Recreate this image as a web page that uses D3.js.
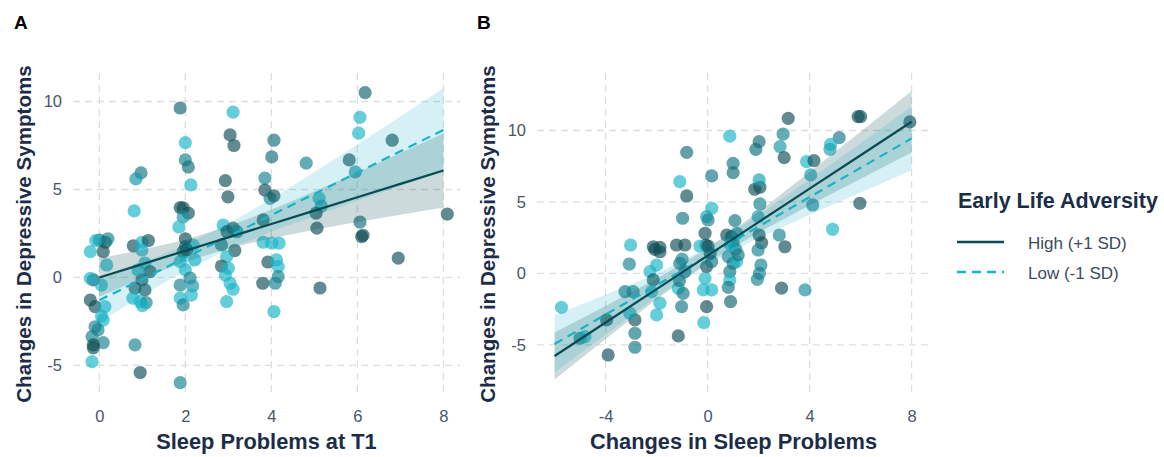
<!DOCTYPE html>
<html><head><meta charset="utf-8">
<script src="https://cdn.jsdelivr.net/npm/d3@7"></script>
<style>
body{margin:0;background:#fff;}
text{font-family:"Liberation Sans",Arial,sans-serif;}
</style></head>
<body><svg id="c" width="1164" height="457"></svg>
<script>
// ---------- DATA ----------
// Panel A: Sleep Problems at T1 vs Changes in Depressive Symptoms
const aX = [1.88,3.11,6.18,6.06,6.03,6.81,3.04,3.13,4.06,4.01,4.81,2.0,2.0,2.07,2.13,0.97,0.85,0.81,2.93,2.99,3.85,3.85,3.97,4.06,5.81,5.95,1.88,1.95,2.07,1.95,1.85,5.11,5.16,5.04,5.06,6.06,6.13,8.09,3.81,2.88,2.97,3.11,3.2,3.81,4.01,4.18,0.0,0.14,-0.08,0.79,0.99,1.14,2.0,2.18,-0.21,0.09,0.99,1.95,2.03,1.88,2.22,2.0,2.11,1.88,2.17,1.88,2.14,1.95,1.88,2.84,3.15,2.96,2.84,3.0,2.93,3.04,3.11,2.96,3.92,4.12,4.16,4.16,4.09,3.8,4.06,5.13,6.1,6.95,-0.14,-0.21,0.05,0.17,-0.21,-0.1,0.13,0.05,0.09,-0.1,-0.03,-0.17,0.09,-0.14,-0.14,-0.17,0.83,0.95,0.83,0.99,1.06,0.78,0.95,1.09,1.06,1.18,0.9,0.2,1.0,2.0];
const aY = [9.63,9.4,10.5,9.1,8.2,7.8,8.1,7.5,7.8,6.85,6.5,7.66,6.68,6.28,5.26,5.94,5.6,3.78,5.5,4.58,5.65,4.97,4.5,4.64,6.68,6.0,3.97,3.95,3.66,3.44,2.87,4.5,4.06,3.66,2.8,3.15,2.4,3.6,3.27,2.98,2.6,2.8,2.6,2.0,1.95,1.95,2.13,2.0,2.1,1.8,2.0,2.1,1.74,1.84,1.47,1.47,1.56,1.47,1.56,0.9,1.0,0.43,-0.03,-0.43,-0.48,-1.17,-1.0,-1.56,-5.98,1.85,1.53,1.18,0.65,0.53,0.14,-0.33,-0.67,-1.37,0.88,1.0,0.62,0.05,-0.33,-0.33,-1.94,-0.6,2.32,1.1,-0.14,-0.05,-0.43,0.71,-1.28,-1.66,-1.66,-2.19,-2.42,-2.8,-2.98,-3.36,-3.7,-3.83,-4.0,-4.78,-3.83,-5.4,-0.6,-0.14,-0.71,-1.17,-1.37,-1.43,0.82,0.33,0.43,2.2,-1.6,2.2];
// Early-life adversity of each point (1 = high, 0 = low)
const aAdv = [0.8,0,0.8,0,0,1,1,1,0.7,0.7,0.5,0,0.5,0.7,0,0.6,0.3,0,1,1,0.5,1,0.5,1,1,0.4,1,1,1,0.3,0,0,0.2,1,1,0.7,1,1,1,0,1,1,0.5,0,0,0,0.6,1,0,1,0,1,0.5,0,0,1,0,1,1,0,0,0,0.5,0.5,0.3,0,0,0.5,0.5,0.7,1,0,1,0,0,0,0,0,1,0,0,0.5,0.5,1,0,1,1,1,1,0,0,0,1,1,0,0,0,0.5,0.5,0.5,0.5,1,1,0,0.5,1,1,1,1,0,0,0.5,0,1,0,0.5,0,1];

// Panel B: Changes in Sleep Problems vs Changes in Depressive Symptoms
const bX = [3.16,5.9,6.0,7.93,0.87,2.96,2.02,1.89,2.84,3.0,5.16,4.82,4.8,-0.82,3.88,4.17,4.04,1.0,1.0,0.16,-1.09,-0.82,1.85,2.05,2.02,2.05,4.12,5.97,4.9,0.16,-0.04,0.02,-0.98,1.07,1.98,2.81,2.02,2.12,3.03,-0.1,-0.07,0.75,0.94,1.14,-3.02,-2.13,-1.87,-1.22,-0.89,-0.3,-3.07,-2.07,-1.87,0.02,1.98,2.09,2.03,1.95,2.9,3.82,0.81,1.0,1.14,0.87,0.87,0.81,0.9,-0.04,0.16,-0.1,-0.17,0.16,-0.04,-0.15,-1.09,-0.89,-1.15,-0.96,-1.02,-1.15,-2.0,-2.26,-2.13,-2.2,-1.87,-2.0,-2.85,-2.85,-2.85,-3.24,-2.92,-3.05,-3.96,-3.9,-5.0,-4.81,-5.73,1.0,1.1,0.9,-1.0,-1.1,0.1,1.2];
const bY = [10.85,10.97,10.97,10.6,9.6,9.75,9.22,8.68,8.87,8.1,9.5,9.03,8.68,8.47,7.82,7.89,6.89,7.7,7.05,6.82,6.42,5.42,5.89,6.03,6.54,4.86,4.79,4.91,3.09,4.56,3.97,3.74,3.86,3.69,3.97,2.69,2.69,2.15,1.87,2.81,1.99,2.69,2.57,2.81,1.99,1.87,1.83,1.99,1.99,1.92,0.66,1.69,1.52,1.92,1.64,0.59,0.01,-0.41,-1.03,-1.15,1.18,0.71,0.83,0.13,-0.45,-0.97,-1.97,0.48,0.83,-0.34,-1.15,-1.15,-2.32,-3.44,0.71,0.13,-1.04,-1.39,-2.32,-4.37,0.59,0.13,-0.45,-1.27,-2.08,-2.9,-3.25,-4.18,-5.16,-1.27,-1.27,-2.78,-3.25,-5.7,-4.53,-4.42,-2.37,2.2,1.7,2.0,1.0,-0.5,1.4,1.3];
const bAdv = [1,1,1,1,0,0.5,0.7,0.7,0.3,1,0.6,0,0.2,0.7,0,1,0.2,0.6,0.7,0.6,0,1,1,1,0.2,0.5,0.5,1,0,0,0.2,0.5,0.6,0.6,0.2,0.5,1,1,1,1,1,1,1,0.5,0,1,1,1,1,0,0.5,1,1,1,0.5,0.5,0.5,0.5,1,0.4,0.5,0.6,0,0.6,0,0.6,0.8,1,0.6,0,0,0,1,0,0.6,0.6,0,0.6,0.6,1,0,0,1,0,0,0,1,0.6,0.6,0.6,0.6,0,1,1,0.6,0,0,0.6,0.5,0,0.5,0.6,1,0.6];

// Simple-slope predictions and 95% CI bands
const aLineX = [0,1,2,3,4,5,6,7,8];
const aHighFit = [0,0.76,1.52,2.28,3.04,3.8,4.56,5.32,6.08];
const aHighLo  = [-1.09,-0.05,0.89,1.65,2.23,2.71,3.15,3.57,3.98];
const aHighHi  = [1.09,1.57,2.15,2.91,3.85,4.89,5.97,7.07,8.18];
const aLowFit  = [-1.3,-0.09,1.12,2.33,3.54,4.75,5.96,7.17,8.38];
const aLowLo   = [-2.55,-1.02,0.39,1.6,2.61,3.5,4.36,5.19,6.01];
const aLowHi   = [-0.05,0.84,1.85,3.06,4.47,6.0,7.56,9.15,10.75];

const bLineX = [-6,-4,-2,0,2,4,6,8];
const bHighFit = [-5.77,-3.43,-1.09,1.25,3.59,5.93,8.27,10.61];
const bHighLo  = [-7.41,-4.59,-1.81,0.75,2.87,4.77,6.63,8.46];
const bHighHi  = [-4.13,-2.27,-0.37,1.75,4.31,7.09,9.91,12.76];
const bLowFit  = [-4.93,-2.88,-0.82,1.23,3.28,5.34,7.39,9.45];
const bLowLo   = [-6.93,-4.28,-1.62,0.63,2.48,4.11,5.67,7.22];
const bLowHi   = [-2.93,-1.48,-0.02,1.83,4.08,6.57,9.11,11.68];

const aXTicks = [0,2,4,6,8];
const bXTicks = [-4,0,4,8];
const yTicksA = [-5,0,5,10];
const yTicksB = [-5,0,5,10];
const legendLabels = ["High (+1 SD)","Low (-1 SD)"];

// ---------- STYLE ----------
const HIGH = "#0b4a52", LOW = "#14b4c9";
const ptColor = d3.interpolateRgb("#17b3c8", "#0f4f57");
const svg = d3.select("#c");
const fmt = d => String(d);

function panel(opt){
  const x = d3.scaleLinear().domain(opt.xd).range([opt.l, opt.r]);
  const y = d3.scaleLinear().domain(opt.yd).range([opt.b, opt.t]);
  const g = svg.append("g");
  // grid
  g.selectAll(".gx").data(opt.xt).join("line")
    .attr("x1", d=>x(d)).attr("x2", d=>x(d)).attr("y1", opt.t).attr("y2", opt.b)
    .attr("stroke","#dedede").attr("stroke-width",1.3).attr("stroke-dasharray","7,5");
  g.selectAll(".gy").data(opt.yt).join("line")
    .attr("x1", opt.l).attr("x2", opt.r).attr("y1", d=>y(d)).attr("y2", d=>y(d))
    .attr("stroke","#dedede").attr("stroke-width",1.3).attr("stroke-dasharray","7,5");
  // axes (text only)
  const xa = g.append("g").attr("transform",`translate(0,${opt.b+9})`)
    .call(d3.axisBottom(x).tickValues(opt.xt).tickFormat(fmt).tickSize(0).tickPadding(6));
  xa.select(".domain").remove();
  xa.selectAll("text").attr("font-size",16.5).attr("fill","#4a5466");
  const ya = g.append("g").attr("transform",`translate(${opt.l-4},0)`)
    .call(d3.axisLeft(y).tickValues(opt.yt).tickFormat(fmt).tickSize(0).tickPadding(7));
  ya.select(".domain").remove();
  ya.selectAll("text").attr("font-size",16.5).attr("fill","#4a5466");
  // points
  g.selectAll(".pt").data(opt.px.map((v,i)=>({x:v,y:opt.py[i],a:opt.pa[i]}))).join("circle")
    .attr("cx", d=>x(d.x)).attr("cy", d=>y(d.y)).attr("r",6.6)
    .attr("fill", d=>ptColor(d.a)).attr("fill-opacity",0.66);
  // ribbons
  const area = (lo,hi)=>d3.area().x((d,i)=>x(opt.lx[i])).y0((d,i)=>y(lo[i])).y1((d,i)=>y(hi[i]));
  g.append("path").datum(opt.lx).attr("d", area(opt.hLo,opt.hHi)).attr("fill","#0f4f57").attr("fill-opacity",0.21);
  g.append("path").datum(opt.lx).attr("d", area(opt.lLo,opt.lHi)).attr("fill","#17b3c8").attr("fill-opacity",0.18);
  const line = (f)=>d3.line().x((d,i)=>x(opt.lx[i])).y((d,i)=>y(f[i]));
  g.append("path").datum(opt.lx).attr("d", line(opt.lFit)).attr("fill","none")
    .attr("stroke",LOW).attr("stroke-width",2.2).attr("stroke-dasharray","9,6");
  g.append("path").datum(opt.lx).attr("d", line(opt.hFit)).attr("fill","none")
    .attr("stroke",HIGH).attr("stroke-width",2.2);
  // titles
  svg.append("text").attr("x",(opt.l+opt.r)/2).attr("y",449).attr("text-anchor","middle")
    .attr("font-size",21.8).attr("font-weight","bold").attr("fill","#1c2d48").text(opt.xlab);
  svg.append("text").attr("transform",`translate(${opt.ylx},${(opt.t+opt.b)/2}) rotate(-90)`)
    .attr("text-anchor","middle").attr("font-size",20.6).attr("font-weight","bold").attr("fill","#1c2d48")
    .text("Changes in Depressive Symptoms");
  svg.append("text").attr("x",opt.tagx).attr("y",29).attr("font-size",19).attr("font-weight","bold")
    .attr("fill","#000").text(opt.tag);
}

panel({l:73,r:460,t:73,b:395,xd:[-0.612,8.386],yd:[-6.68,11.62],xt:aXTicks,yt:yTicksA,
  px:aX,py:aY,pa:aAdv,lx:aLineX,hFit:aHighFit,hLo:aHighLo,hHi:aHighHi,lFit:aLowFit,lLo:aLowLo,lHi:aLowHi,
  xlab:"Sleep Problems at T1",ylx:31,tag:"A",tagx:14});
panel({l:537,r:930,t:73,b:395,xd:[-6.69,8.72],yd:[-8.5,14.02],xt:bXTicks,yt:yTicksB,
  px:bX,py:bY,pa:bAdv,lx:bLineX,hFit:bHighFit,hLo:bHighLo,hHi:bHighHi,lFit:bLowFit,lLo:bLowLo,lHi:bLowHi,
  xlab:"Changes in Sleep Problems",ylx:495,tag:"B",tagx:477});

// legend
const lg = svg.append("g");
lg.append("text").attr("x",958).attr("y",208).attr("font-size",21.5).attr("font-weight","bold")
  .attr("fill","#1c2d48").text("Early Life Adversity");
const keys = [{c:HIGH,d:null,y:242},{c:LOW,d:"9,6",y:272}];
keys.forEach((k,i)=>{
  lg.append("line").attr("x1",957).attr("x2",1004).attr("y1",k.y).attr("y2",k.y)
    .attr("stroke",k.c).attr("stroke-width",2.4).attr("stroke-dasharray",k.d);
  lg.append("text").attr("x",1028).attr("y",k.y+6.5).attr("font-size",17).attr("fill","#3c4a5e").text(legendLabels[i]);
});
</script></body></html>
